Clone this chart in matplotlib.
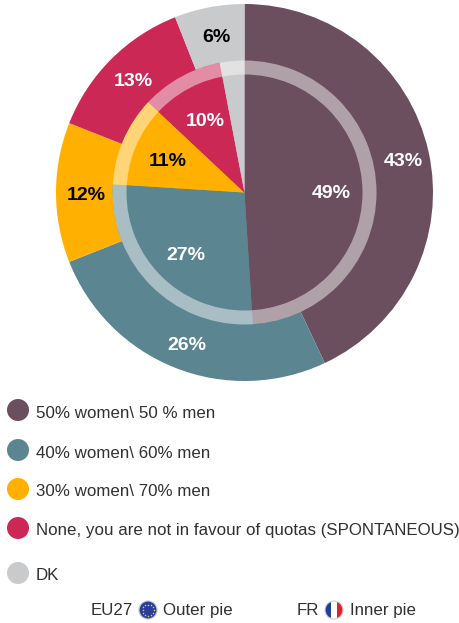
import matplotlib
matplotlib.use('Agg')
import numpy as np
import matplotlib.pyplot as plt
from matplotlib.patches import Circle, Wedge

# answers, clockwise from the top
categories = ['50% women\\ 50 % men', '40% women\\ 60% men', '30% women\\ 70% men',
              'None, you are not in favour of quotas (SPONTANEOUS)', 'DK']
outer_eu27 = [43, 26, 12, 13, 6]
inner_fr = [49, 27, 11, 10, 3]
colors = ['#6b4f5e', '#5b8591', '#ffb000', '#cc2856', '#c9cacc']

plt.rcParams['font.family'] = ['Liberation Sans', 'DejaVu Sans']

H = 623
fig = plt.figure(figsize=(4.59, 6.23), dpi=100)
ax = fig.add_axes([0, 0, 1, 1])

cx, cy = 244.5, H - 192.5
ax.pie(outer_eu27, colors=colors, startangle=90, counterclock=False,
       radius=188.5, center=(cx, cy), frame=True)
ax.pie(inner_fr, colors=colors, startangle=90, counterclock=False,
       radius=132, center=(cx, cy), frame=True)
# pale ring between the two pies
ax.add_patch(Wedge((cx, cy), 132, 0, 360, width=14, facecolor='white', alpha=0.47, lw=0))

def pct(x, y, value, color, size=14):
    ax.text(x, H - y - 2, f'{value}%', color=color, fontsize=size, fontweight='bold',
            ha='center', va='center')

pct(403, 159, outer_eu27[0], 'white')
pct(187, 344, outer_eu27[1], 'white')
pct(86, 194, outer_eu27[2], 'black')
pct(133, 79, outer_eu27[3], 'white')
pct(216, 36, outer_eu27[4], 'black')
pct(331, 192, inner_fr[0], 'white')
pct(186, 254, inner_fr[1], 'white')
pct(168, 160, inner_fr[2], 'black')
pct(205, 119, inner_fr[3], 'white')

# legend
legend_y = [410, 450, 489, 528, 573]
for name, col, y in zip(categories, colors, legend_y):
    ax.add_patch(Circle((18, H - y), 11, facecolor=col, lw=0))
    ax.text(36, H - y - 3, name, fontsize=12.2, color='#303030', va='center')

# bottom line with the two flags
ax.text(91, H - 610.5, 'EU27', fontsize=12.2, color='#303030', va='center')
ax.add_patch(Circle((148, H - 610), 9, facecolor='#2a3f9a', edgecolor='#c8c8d0', lw=0.8))
star_angles = np.deg2rad(np.arange(0, 360, 30))
ax.scatter(148 + 5.5 * np.cos(star_angles), H - 610 + 5.5 * np.sin(star_angles),
           s=1.2, color='#e8d040', lw=0, zorder=5)
ax.text(163, H - 610.5, 'Outer pie', fontsize=12.2, color='#303030', va='center')
ax.text(297, H - 610.5, 'FR', fontsize=12.2, color='#303030', va='center')
ax.add_patch(Wedge((334, H - 610), 9, 90, 270, facecolor='#22409a', lw=0))
ax.add_patch(Wedge((334, H - 610), 9, 270, 90, facecolor='#e0202c', lw=0))
ax.add_patch(plt.Rectangle((331, H - 619), 6, 18, facecolor='white', lw=0))
ax.add_patch(Circle((334, H - 610), 9, facecolor='none', edgecolor='#d0d0d0', lw=0.8))
ax.text(350, H - 610.5, 'Inner pie', fontsize=12.2, color='#303030', va='center')

ax.set_xlim(0, 459)
ax.set_ylim(0, H)
ax.set_aspect('auto')
ax.axis('off')
fig.savefig('out.png', dpi=100)
